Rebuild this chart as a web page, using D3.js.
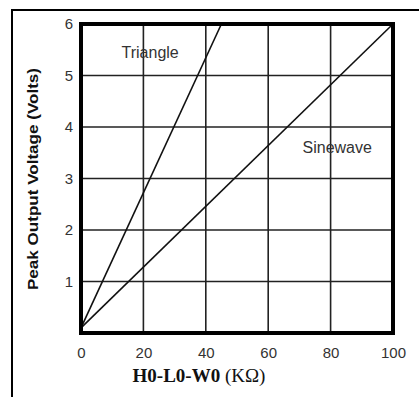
<!DOCTYPE html>
<html>
<head>
<meta charset="utf-8">
<script src="https://cdn.jsdelivr.net/npm/d3@7"></script>
<style>
  html, body { margin: 0; padding: 0; background: #fff; }
  svg { display: block; }
</style>
</head>
<body>
<div id="container"></div>
<script>
const WIDTH = 419;
const HEIGHT = 397;

// plot box in pixels
const LEFT = 81, RIGHT = 393, TOP = 24, BOTTOM = 333;

var xTicks = [0, 20, 40, 60, 80, 100];
var yTicks = [1, 2, 3, 4, 5, 6];
var xGrid = [20, 40, 60, 80];
var yGrid = [1, 2, 3, 4, 5];

// resistance (kOhm) -> peak output (V)
var triangle = [{x: 0, y: 0.1}, {x: 45, y: 6}];
var sinewave = [{x: 0, y: 0.1}, {x: 100, y: 6}];

var curveNames = ["Triangle", "Sinewave"];
var curveLabelX = [13, 71];
var curveLabelY = [5.45, 3.6];

var xScale = d3.scaleLinear().domain([0, 100]).range([LEFT, RIGHT]);
var yScale = d3.scaleLinear().domain([0, 6]).range([BOTTOM, TOP]);

var svg = d3.select("#container")
    .append("svg")
    .attr("width", WIDTH)
    .attr("height", HEIGHT);

// outer frame, runs off the right and bottom edge
svg.append("rect")
    .attr("x", 12).attr("y", 10)
    .attr("width", WIDTH).attr("height", HEIGHT)
    .attr("fill", "none")
    .attr("stroke", "#000")
    .attr("stroke-width", 2);

var g = svg.append("g");

g.selectAll(".vgrid").data(xGrid)
    .enter().append("line")
    .attr("x1", function (d) { return xScale(d); })
    .attr("x2", function (d) { return xScale(d); })
    .attr("y1", TOP).attr("y2", BOTTOM)
    .attr("stroke", "#222")
    .attr("stroke-width", 1.6);

g.selectAll(".hgrid").data(yGrid)
    .enter().append("line")
    .attr("y1", function (d) { return yScale(d); })
    .attr("y2", function (d) { return yScale(d); })
    .attr("x1", LEFT).attr("x2", RIGHT)
    .attr("stroke", "#222")
    .attr("stroke-width", 1.6);

var line = d3.line()
    .x(function (d) { return xScale(d.x); })
    .y(function (d) { return yScale(d.y); });

[triangle, sinewave].forEach(function (s) {
    g.append("path")
        .attr("d", line(s))
        .attr("fill", "none")
        .attr("stroke", "#111")
        .attr("stroke-width", 1.6);
});

g.append("rect")
    .attr("x", LEFT).attr("y", TOP)
    .attr("width", RIGHT - LEFT).attr("height", BOTTOM - TOP)
    .attr("fill", "none")
    .attr("stroke", "#000")
    .attr("stroke-width", 4);

g.selectAll(".clabel").data(curveNames)
    .enter().append("text")
    .attr("x", function (d, i) { return xScale(curveLabelX[i]); })
    .attr("y", function (d, i) { return yScale(curveLabelY[i]); })
    .attr("dy", "0.35em")
    .attr("font-family", "Arial, 'Liberation Sans', sans-serif")
    .attr("font-size", 16)
    .attr("fill", "#333")
    .text(function (d) { return d; });

var xAxis = d3.axisBottom(xScale).tickValues(xTicks).tickSize(0).tickPadding(0)
    .tickFormat(d3.format("d"));
var yAxis = d3.axisLeft(yScale).tickValues(yTicks).tickSize(0).tickPadding(0)
    .tickFormat(d3.format("d"));

var xg = svg.append("g")
    .attr("transform", "translate(0," + (BOTTOM + 14) + ")")
    .call(xAxis);
xg.select(".domain").remove();
xg.selectAll("text")
    .attr("font-family", "Arial, 'Liberation Sans', sans-serif")
    .attr("font-size", 15)
    .attr("fill", "#333");

var yg = svg.append("g")
    .attr("transform", "translate(" + (LEFT - 8) + ",0)")
    .call(yAxis);
yg.select(".domain").remove();
yg.selectAll("text")
    .attr("font-family", "Arial, 'Liberation Sans', sans-serif")
    .attr("font-size", 15)
    .attr("fill", "#333");

svg.append("text")
    .attr("transform", "translate(33," + 179 + ") rotate(-90)")
    .attr("text-anchor", "middle")
    .attr("dy", "0.35em")
    .attr("font-family", "Arial, 'Liberation Sans', sans-serif")
    .attr("font-weight", "bold")
    .attr("font-size", 15)
    .attr("textLength", 222)
    .attr("lengthAdjust", "spacingAndGlyphs")
    .attr("fill", "#111")
    .text("Peak Output Voltage (Volts)");

var xt = svg.append("text")
    .attr("x", 199).attr("y", 375)
    .attr("dy", "0.35em")
    .attr("text-anchor", "middle")
    .attr("font-family", "'Liberation Serif', 'Times New Roman', serif")
    .attr("font-size", 19)
    .attr("fill", "#111");
xt.append("tspan").attr("font-weight", "bold").text("H0-L0-W0");
xt.append("tspan").text(" (KΩ)");
</script>
</body>
</html>
